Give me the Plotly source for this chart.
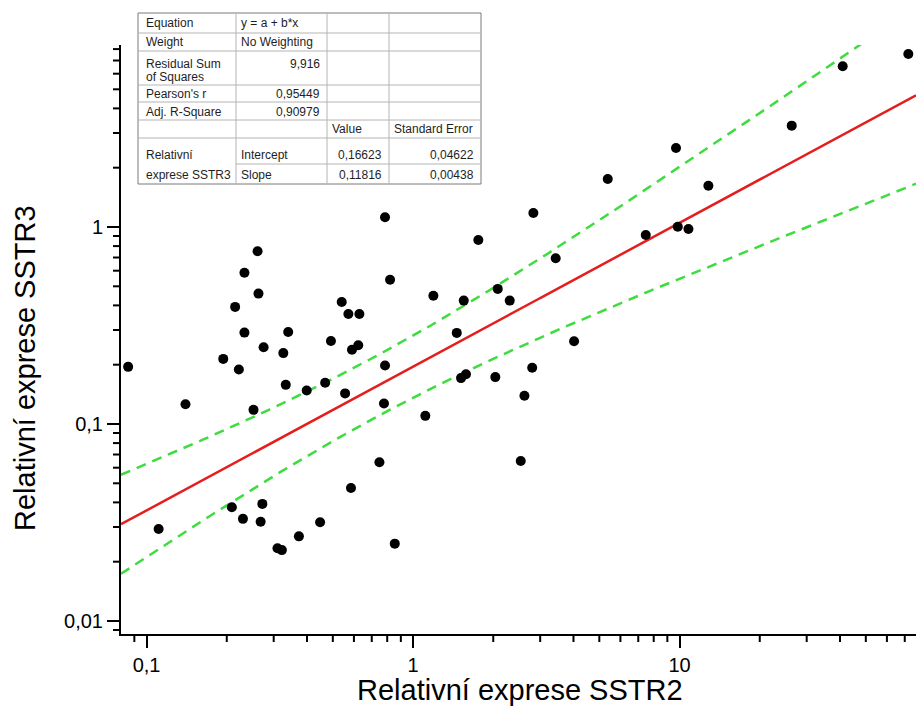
import numpy as np
import plotly.graph_objects as go

# Relative expression per sample (SSTR2 on x, SSTR3 on y)
sstr2 = [0.0853, 0.140, 0.111, 0.194, 0.222, 0.333, 0.399, 0.468, 0.556, 0.252,
         0.585, 0.209, 0.272, 0.230, 0.268, 0.373, 0.448, 0.310, 0.322, 0.748,
         0.785, 0.778, 1.112, 0.854, 1.514, 1.580, 2.036, 2.800, 2.618, 2.536,
         0.261, 0.233, 0.263, 0.215, 0.233, 0.340, 0.275, 0.326, 0.492, 0.540,
         0.572, 0.629, 0.590, 0.623, 0.785, 0.820, 1.758, 2.828, 3.430, 1.192,
         1.550, 2.079, 2.306, 1.459, 4.020, 5.378, 7.470, 72.2, 40.95, 26.36,
         9.70, 12.83, 9.85, 10.8]
sstr3 = [0.195, 0.126, 0.0293, 0.214, 0.189, 0.158, 0.148, 0.162, 0.143, 0.118,
         0.0473, 0.0378, 0.0393, 0.0330, 0.0319, 0.0269, 0.0317, 0.0234, 0.0229, 0.0639,
         0.198, 0.127, 0.110, 0.0247, 0.171, 0.179, 0.173, 0.193, 0.139, 0.0649,
         0.753, 0.586, 0.459, 0.393, 0.291, 0.293, 0.245, 0.229, 0.264, 0.416,
         0.362, 0.362, 0.238, 0.251, 1.12, 0.540, 0.859, 1.178, 0.694, 0.448,
         0.423, 0.485, 0.423, 0.290, 0.263, 1.753, 0.911, 7.55, 6.54, 3.27,
         2.518, 1.62, 1.003, 0.977]

# Fitted line and confidence band, in log10-log10 space
fit_intercept = -0.709
fit_slope = 0.730
band_var_min = 0.0239      # squared half-width at the band's narrowest point
band_center_log = -0.142   # log10(x) where the band is narrowest
band_growth = 0.0432       # growth of squared half-width with distance

# Axis ticks
x_tickvals = [0.1, 1, 10]
x_ticktext = ["0,1", "1", "10"]
y_tickvals = [0.01, 0.1, 1]
y_ticktext = ["0,01", "0,1", "1"]
minor_vals = [k * 10.0 ** e for e in range(-3, 3) for k in range(2, 10)]

# Fit summary table
table_cells = [
    ["Equation", "y = a + b*x", "", ""],
    ["Weight", "No Weighting", "", ""],
    [["Residual Sum", "of Squares"], "9,916", "", ""],
    ["Pearson's r", "0,95449", "", ""],
    ["Adj. R-Square", "0,90979", "", ""],
    ["", "", "Value", "Standard Error"],
    [["Relativní", "exprese SSTR3"], "Intercept", "0,16623", "0,04622"],
    ["", "Slope", "0,11816", "0,00438"],
]

x_title = "Relativní exprese SSTR2"
y_title = "Relativní exprese SSTR3"

# ---------------------------------------------------------------- layout geometry
FIG_W, FIG_H = 916, 726
M_L, M_R, M_T, M_B = 121, 0, 45, 92
PW, PH = FIG_W - M_L - M_R, FIG_H - M_T - M_B
X_DEC_PX, Y_DEC_PX = 266.5, 197.0
x_lo = np.log10(0.0802)
y_lo = np.log10(0.00859)
x_rng = [x_lo, x_lo + PW / X_DEC_PX]
y_rng = [y_lo, y_lo + PH / Y_DEC_PX]

FONT = "Liberation Sans, Arial, sans-serif"


def fx(p):
    return (p - M_L) / PW


def fy(p):
    return (FIG_H - M_B - p) / PH


def log_frac(v, rng):
    """Fractional position of value v along a log axis with the given log range."""
    return float((np.log10(v) - rng[0]) / (rng[1] - rng[0]))


# ---------------------------------------------------------------- traces
u = np.linspace(x_rng[0], x_rng[1], 300)
v_fit = fit_intercept + fit_slope * u
half = np.sqrt(band_var_min + band_growth * (u - band_center_log) ** 2)
xs = 10 ** u

fig = go.Figure()
fig.add_trace(go.Scatter(x=xs, y=10 ** (v_fit + half), mode="lines",
                         line=dict(color="#3edc3e", width=2.5, dash="10px,7px"),
                         hoverinfo="skip"))
fig.add_trace(go.Scatter(x=xs, y=10 ** (v_fit - half), mode="lines",
                         line=dict(color="#3edc3e", width=2.5, dash="10px,7px"),
                         hoverinfo="skip"))
fig.add_trace(go.Scatter(x=xs, y=10 ** v_fit, mode="lines",
                         line=dict(color="#e41e1e", width=2.5),
                         hoverinfo="skip"))
fig.add_trace(go.Scatter(x=sstr2, y=sstr3, mode="markers",
                         marker=dict(color="black", size=10, line=dict(width=0))))

TICK_FONT = dict(family=FONT, size=20, color="black")
base = dict(
    type="log", showgrid=False, zeroline=False,
    showline=True, linecolor="black", linewidth=2, mirror=False,
    ticks="outside", ticklen=12, tickwidth=2, tickcolor="black",
    tickfont=TICK_FONT, tickmode="array",
)
fig.update_layout(
    xaxis=dict(range=x_rng, tickvals=x_tickvals, ticktext=x_ticktext, **base),
    yaxis=dict(range=y_rng, tickvals=y_tickvals, ticktext=y_ticktext, **base),
)

shapes = []

# minor ticks (2..9 of each decade), short marks just outside the axis lines
MINOR_LEN = 8
for v in minor_vals:
    fxv = log_frac(v, x_rng)
    if 0 <= fxv <= 1:
        shapes.append(dict(type="line", xref="paper", yref="paper", x0=fxv, x1=fxv,
                           y0=0.0, y1=-MINOR_LEN / PH,
                           line=dict(color="black", width=2), layer="above"))
    fyv = log_frac(v, y_rng)
    if 0 <= fyv <= 1:
        shapes.append(dict(type="line", xref="paper", yref="paper", y0=fyv, y1=fyv,
                           x0=0.0, x1=-MINOR_LEN / PW,
                           line=dict(color="black", width=2), layer="above"))

# ---------------------------------------------------------------- table
col_edges = [138, 236, 327, 389, 481]
row_edges = [13, 33, 51, 85, 102, 120, 138, 164, 184]
text_rows = [23, 42, 64, 94, 112, 129, 155, 175]
second_line = 77
inner = "#b4b4b4"
outer = "#7a7a7a"

shapes.append(dict(type="rect", xref="paper", yref="paper",
                   x0=fx(col_edges[0]), x1=fx(col_edges[-1]),
                   y0=fy(row_edges[0]), y1=fy(row_edges[-1]),
                   fillcolor="white", line=dict(color=outer, width=1), layer="above"))
for i, r in enumerate(row_edges[1:-1], start=1):
    x_start = col_edges[1] if i == 7 else col_edges[0]
    shapes.append(dict(type="line", xref="paper", yref="paper",
                       x0=fx(x_start), x1=fx(col_edges[-1]), y0=fy(r), y1=fy(r),
                       line=dict(color=inner, width=1), layer="above"))
for c in col_edges[1:-1]:
    shapes.append(dict(type="line", xref="paper", yref="paper",
                       x0=fx(c), x1=fx(c), y0=fy(row_edges[0]), y1=fy(row_edges[-1]),
                       line=dict(color=inner, width=1), layer="above"))

annotations = []


def cell_text(txt, px, py, anchor):
    annotations.append(dict(text=txt, x=fx(px), y=fy(py), xref="paper", yref="paper",
                            xanchor=anchor, yanchor="middle", showarrow=False,
                            font=dict(family=FONT, size=12, color="#1e1e1e")))


for ri, row in enumerate(table_cells):
    yc = text_rows[ri]
    for ci, txt in enumerate(row):
        if not txt:
            continue
        if isinstance(txt, list):
            if ri == 2:
                cell_text(txt[0], col_edges[ci] + 6, yc, "left")
                cell_text(txt[1], col_edges[ci] + 6, second_line, "left")
            else:
                cell_text(txt[0], col_edges[ci] + 6, text_rows[6], "left")
                cell_text(txt[1], col_edges[ci] + 6, text_rows[7], "left")
            continue
        numeric = txt[0].isdigit()
        if ci == 0:
            cell_text(txt, col_edges[0] + 6, yc, "left")
        elif numeric:
            cell_text(txt, col_edges[ci + 1] - 5, yc, "right")
        else:
            cell_text(txt, col_edges[ci] + 3, yc, "left")

# axis titles
annotations.append(dict(text=x_title, x=fx(520), y=fy(690), xref="paper", yref="paper",
                        xanchor="center", yanchor="middle", showarrow=False,
                        font=dict(family=FONT, size=29, color="black")))
annotations.append(dict(text=y_title, x=fx(25), y=fy(368), xref="paper", yref="paper",
                        xanchor="center", yanchor="middle", showarrow=False, textangle=-90,
                        font=dict(family=FONT, size=29, color="black")))

fig.update_layout(
    width=FIG_W, height=FIG_H,
    margin=dict(l=M_L, r=M_R, t=M_T, b=M_B),
    paper_bgcolor="white", plot_bgcolor="white",
    showlegend=False,
    shapes=shapes, annotations=annotations,
    font=dict(family=FONT),
)

fig.write_html("out.html")
